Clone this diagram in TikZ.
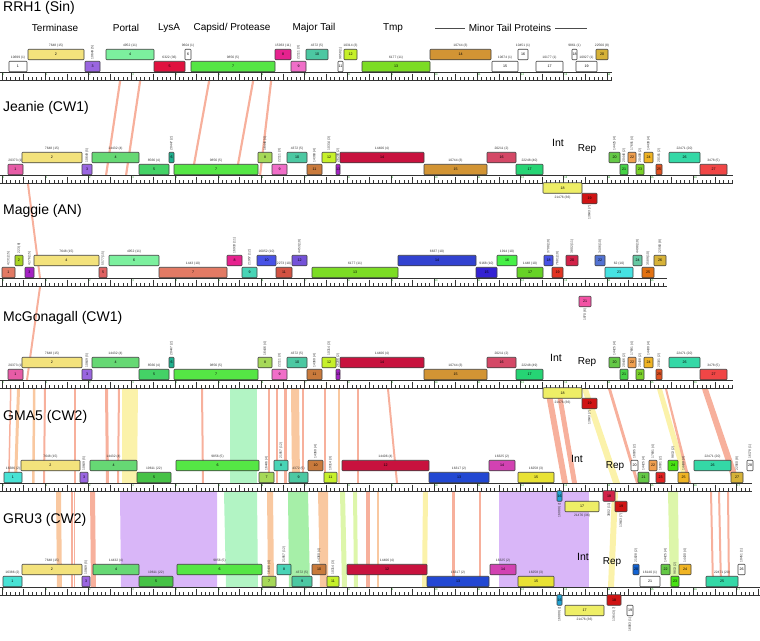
\documentclass[tikz,border=0pt]{standalone}
\usepackage{fontspec}
\setmainfont{Liberation Sans}

% gene colours
\definecolor{terY}{HTML}{F3E27C}
\definecolor{portL}{HTML}{7CF09E}
\definecolor{portG}{HTML}{66D874}
\definecolor{crim}{HTML}{E0123F}
\definecolor{capG}{HTML}{55E645}
\definecolor{pinkB}{HTML}{F06EC8}
\definecolor{mag}{HTML}{E6228E}
\definecolor{teal}{HTML}{4CC8A2}
\definecolor{ylg}{HTML}{C6F02A}
\definecolor{tmpG}{HTML}{7CDC24}
\definecolor{gold}{HTML}{D29434}
\definecolor{gold2}{HTML}{D6B238}
\definecolor{purp}{HTML}{9A66E0}
\definecolor{pink1}{HTML}{E65CA6}
\definecolor{gfive}{HTML}{44D266}
\definecolor{tealD}{HTML}{20B08E}
\definecolor{ylg2}{HTML}{A6D858}
\definecolor{brn}{HTML}{C97A3C}
\definecolor{crim2}{HTML}{C8123E}
\definecolor{rose}{HTML}{D44866}
\definecolor{emer}{HTML}{26D474}
\definecolor{yel2}{HTML}{EEEE66}
\definecolor{cRed}{HTML}{D01414}
\definecolor{gInt}{HTML}{64C846}
\definecolor{gNext}{HTML}{46D246}
\definecolor{orgL}{HTML}{F0A050}
\definecolor{gLime}{HTML}{7AD22A}
\definecolor{orgY}{HTML}{F0B424}
\definecolor{orgR}{HTML}{E05020}
\definecolor{teal2}{HTML}{34D8A6}
\definecolor{red2}{HTML}{F04646}
\definecolor{salm}{HTML}{E27A64}
\definecolor{magP}{HTML}{A522C4}
\definecolor{salR}{HTML}{E06262}
\definecolor{tealM}{HTML}{48D4B6}
\definecolor{redB}{HTML}{D25242}
\definecolor{blueM}{HTML}{4852E6}
\definecolor{purM}{HTML}{7452D8}
\definecolor{blueD}{HTML}{3242D0}
\definecolor{blueV}{HTML}{3422D2}
\definecolor{grM}{HTML}{46F046}
\definecolor{grM2}{HTML}{66D226}
\definecolor{redM}{HTML}{E23422}
\definecolor{crimM}{HTML}{D22248}
\definecolor{blueL}{HTML}{5272D2}
\definecolor{cyanM}{HTML}{46E2E2}
\definecolor{tealL}{HTML}{66C8A2}
\definecolor{orM}{HTML}{E27212}
\definecolor{pinkM}{HTML}{F252A4}
\definecolor{ylgM}{HTML}{A8D424}
\definecolor{cyanG}{HTML}{48E2D4}
\definecolor{grG}{HTML}{46C246}
\definecolor{blueG}{HTML}{2248D2}
\definecolor{yelG}{HTML}{E8E234}
\definecolor{magG}{HTML}{D242B2}
\definecolor{redG}{HTML}{E22222}
\definecolor{limeG}{HTML}{48E212}
\definecolor{cyanB}{HTML}{22A2D2}
\definecolor{blueR}{HTML}{1262D2}
% band colours
\definecolor{bSal}{HTML}{F7B09C}
\definecolor{bOrg}{HTML}{F9C8A0}
\definecolor{bYel}{HTML}{FBF2AA}
\definecolor{bGrn}{HTML}{B2F4C4}
\definecolor{bGrn2}{HTML}{A6EFA8}
\definecolor{bPur}{HTML}{D9B6F8}
\definecolor{bYg}{HTML}{DDF6AA}

\tikzset{
  genebox/.style={draw=black!75,line width=0.6pt,inner sep=0pt,minimum height=10.5pt,
    rounded corners=0.8pt,font=\fontsize{3.6}{4}\selectfont},
  lbl/.style={inner sep=0pt,font=\fontsize{3.3}{4}\selectfont,text=black!80},
  kbtxt/.style={inner sep=0pt,anchor=west,font=\fontsize{2.6}{3}\selectfont,text=green!55!black},
  tickline/.style={line width=0.4pt,black!80},
  rulerline/.style={line width=0.6pt,black!80},
  title/.style={anchor=west,inner sep=0pt,font=\fontsize{14}{16}\selectfont},
  func/.style={inner sep=0pt,font=\fontsize{10}{12}\selectfont},
}

% ruler: #1 y, #2 right end
\newcommand{\ruler}[2]{%
  \draw[rulerline] (0,#1) -- (#2,#1);
  \draw[tickline] (0,#1+8) -- (#2,#1+8);
  \pgfmathtruncatemacro\ntick{(#2-2)/4.32}
  \foreach \i in {0,...,\ntick}{
    \pgfmathsetmacro\tkx{2+4.32*\i}
    \pgfmathtruncatemacro\tmaj{mod(\i,10)}
    \pgfmathtruncatemacro\thalf{mod(\i,5)}
    \ifnum\tmaj=0
      \draw[tickline] (\tkx,#1) -- (\tkx,#1+8);
      \pgfmathtruncatemacro\kbn{\i/10}
      \node[kbtxt] (\trk-k\kbn) at (\tkx+0.5,#1+2.3) {\kbn};
    \else\ifnum\thalf=0
      \draw[tickline] (\tkx,#1+1.5) -- (\tkx,#1+8);
    \else
      \draw[tickline] (\tkx,#1+5) -- (\tkx,#1+8);
    \fi\fi
  }
}

% gene: #1 x1, #2 x2, #3 row (u,l above / d,e below), #4 colour, #5 number, #6 label, #7 h/v
\newcommand{\gene}[7]{%
  \pgfmathsetmacro\gnw{#2-#1}%
  \pgfmathsetmacro\gnx{(#1+#2)/2}%
  \if#3u\def\gno{-17.5}\fi
  \if#3l\def\gno{-5.5}\fi
  \if#3d\def\gno{13}\fi
  \if#3e\def\gno{23.5}\fi
  \pgfmathsetmacro\gny{\ry+\gno}%
  \node[genebox,fill=#4,minimum width=\gnw pt] (\trk-#5) at (\gnx,\gny) {\makebox[0pt]{#5}};
  \ifdim\gno pt<0pt
    \if#7h\node[lbl] (\trk-#5l) at (\gnx,\gny-9.2) {#6};
    \else\node[lbl,rotate=90,anchor=west] (\trk-#5l) at (\gnx,\gny-6.8) {#6};\fi
  \else
    \if#7h\node[lbl] (\trk-#5l) at (\gnx,\gny+9.2) {#6};
    \else\node[lbl,rotate=90,anchor=east] (\trk-#5l) at (\gnx,\gny+6.8) {#6};\fi
  \fi
}

% pham band: #1 top y, #2 bottom y, #3-#4 top x, #5-#6 bottom x, #7 colour
\newcommand{\band}[7]{\fill[#7] (#3,#1) -- (#4,#1) -- (#6,#2) -- (#5,#2) -- cycle;}

\begin{document}
\begin{tikzpicture}[x=1pt,y=-1pt]
\useasboundingbox (0,0) rectangle (760,640);

% bands between genomes
\foreach \a/\c in {119/105,139/125,208/191,252/235,270/259}
  \band{81}{175}{\a}{\a+2.2}{\c}{\c+2.2}{bSal};
\band{184}{278}{27}{29}{39}{41}{bSal}
\band{287}{380}{39}{41}{26}{28}{bSal}
\foreach \a/\b/\c/\d/\bc in {10/11.5/8/9.5/bSal,17/20/14/17/bOrg,33/35.5/32/34.5/bOrg,
    44/46/43/45/bSal,74/76/74/76/bSal,105/108/106/109/bSal,118/120/117/119/bSal,
    122/138/122/137/bYel,201/203/202/204/bSal,230/257/230/257/bGrn,268/270/268/270/bSal,
    276/278/276/278/bSal,284/287/284/287/bSal,291/299/292/300/bOrg,302/304/302/304/bSal,
    324/326/324/326/bSal,338/340/338/340/bOrg,357/359/357/359/bSal,387/389/396/398/bSal,
    545/551/562/568/bSal,556/561/572/577/bSal,582/588/613/620/bYel,608/611/636/639/bSal,
    657/662/684/690/bYel,665/667/688/691/bSal,702/708/733/740/bSal}
  \band{389}{483}{\a}{\b}{\c}{\d}{\bc};
\foreach \a/\b/\c/\d/\bc in {56/61/57/62/bOrg,71/72.5/71/72.5/bSal,73.5/75/73.5/75/bSal,
    90/95/91/96/bSal,120/217/121/217/bPur,224/257/226/258/bGrn,267/273/268/274/bOrg,
    288/308/289/310/bGrn2,318/328/320/328/bOrg,340/345/342/347/bYg,353/357/354/358/bYg,
    366/370/366/370/bSal,377/379/377/379/bOrg,423/428/422/427/bYel,452/455/452/455/bSal,
    479/481/479/481/bSal,499/589/499/589/bPur,612/618/608/614/bYel,668/678/670/679/bYg,
    710/712/712/714/bSal,718/720/720/722/bSal,727/729/728/730/bSal}
  \band{492}{587}{\a}{\b}{\c}{\d}{\bc};

% function labels
\node[func] (ter) at (55,28) {Terminase};
\node[func] (por) at (126,28) {Portal};
\node[func] (lys) at (169,28) {LysA};
\node[func] (cap) at (232,28) {Capsid/ Protease};
\node[func] (mjt) at (314,28) {Major Tail};
\node[func] (tmp) at (393,28) {Tmp};
\node[func] (mtp) at (510,28) {Minor Tail Proteins};
\draw[black!70,line width=0.5pt] ([xshift=-4pt]mtp.west) -- ++(-30,0);
\draw[black!70,line width=0.5pt] ([xshift=4pt]mtp.east) -- ++(32,0);

% RRH1
\def\trk{rrh}\def\ry{72}
\node[title] (rrh) at (3,8) {RRH1 (Sin)};
\ruler{72}{612}
\gene{9}{27}{l}{white}{1}{10699 (1)}{h}
\gene{28}{84}{u}{terY}{2}{7648 (15)}{h}
\gene{85}{100}{l}{purp}{3}{10649 (5)}{v}
\gene{106}{154}{u}{portL}{4}{4952 (11)}{h}
\gene{154}{185}{l}{crim}{5}{6322 (36)}{h}
\gene{185}{191}{u}{white}{6}{9604 (1)}{h}
\gene{191}{275}{l}{capG}{7}{9856 (5)}{h}
\gene{275}{291}{u}{mag}{8}{15933 (11)}{h}
\gene{291}{306}{l}{pinkB}{9}{22111 (3)}{v}
\gene{306}{328}{u}{teal}{10}{4372 (5)}{h}
\gene{338}{343}{l}{white}{11}{9858 (1)}{v}
\gene{344}{357}{u}{ylg}{12}{10314 (3)}{h}
\gene{362}{430}{l}{tmpG}{13}{6177 (11)}{h}
\gene{430}{491}{u}{gold}{14}{10744 (3)}{h}
\gene{492}{518}{l}{white}{15}{10674 (1)}{h}
\gene{518}{528}{u}{white}{16}{10451 (1)}{h}
\gene{536}{563}{l}{white}{17}{10177 (1)}{h}
\gene{572}{577}{u}{white}{18}{9861 (1)}{h}
\gene{576}{597}{l}{white}{19}{10927 (1)}{h}
\gene{596}{608}{u}{gold2}{20}{22560 (8)}{h}

% Jeanie and McGonagall
\node[title] (jea) at (3,108) {Jeanie (CW1)};
\node[title] (mcg) at (3,318) {McGonagall (CW1)};
\foreach \trk/\ry/\pn in {jea/175/40,mcg/380/49}{
  \ruler{\ry}{733}
  \gene{8}{23}{l}{pink1}{1}{20373 (1)}{h}
  \gene{22}{82}{u}{terY}{2}{7648 (15)}{h}
  \gene{82}{92}{l}{purp}{3}{10649 (5)}{v}
  \gene{92}{139}{u}{portG}{4}{14432 (4)}{h}
  \gene{139}{169}{l}{gfive}{5}{8566 (4)}{h}
  \gene{169}{174}{u}{tealD}{6}{20447 (2)}{v}
  \gene{174}{258}{l}{capG}{7}{9856 (5)}{h}
  \gene{258}{272}{u}{ylg2}{8}{16446 (4)}{v}
  \gene{272}{287}{l}{pinkB}{9}{22111 (3)}{v}
  \gene{287}{307}{u}{teal}{10}{4372 (5)}{h}
  \gene{307}{322}{l}{brn}{11}{14360 (4)}{v}
  \gene{322}{336}{u}{ylg}{12}{10314 (3)}{v}
  \gene{336}{340}{l}{magP}{13}{26206 (2)}{v}
  \gene{340}{424}{u}{crim2}{14}{14406 (4)}{h}
  \gene{424}{487}{l}{gold}{15}{10744 (3)}{h}
  \gene{487}{516}{u}{rose}{16}{20211 (2)}{h}
  \gene{516}{543}{l}{emer}{17}{22248 (\pn)}{h}
  \gene{543}{582}{d}{yel2}{18}{21476 (36)}{h}
  \gene{582}{597}{e}{cRed}{19}{13643 (7)}{v}
  \gene{609}{620}{u}{gInt}{20}{14425 (4)}{v}
  \gene{620}{628}{l}{gNext}{21}{20446 (2)}{v}
  \gene{628}{636}{u}{orgL}{22}{17691 (4)}{v}
  \gene{636}{644}{l}{gLime}{23}{20408 (2)}{v}
  \gene{644}{653}{u}{orgY}{24}{14430 (4)}{v}
  \gene{656}{662}{l}{orgR}{25}{20181 (2)}{v}
  \gene{669}{700}{u}{teal2}{26}{22471 (20)}{h}
  \gene{700}{727}{l}{red2}{27}{3478 (5)}{h}
}
\node[func,font=\fontsize{10.5}{12}\selectfont] (jeaint) at (558,143) {Int};
\node[func] (jearep) at (587,149) {Rep};
\node[func,font=\fontsize{10.5}{12}\selectfont] (mcgint) at (556,358) {Int};
\node[func] (mcgrep) at (587,362) {Rep};

% Maggie
\def\trk{mag}\def\ry{278}
\node[title] (mag) at (3,211) {Maggie (AN)};
\ruler{278}{667}
\gene{2}{15}{l}{salm}{1}{4231 (15)}{v}
\gene{15}{23}{u}{ylgM}{2}{223 (8)}{v}
\gene{25}{34}{l}{magP}{3}{4276 (15)}{v}
\gene{34}{99}{u}{terY}{4}{7648 (15)}{h}
\gene{99}{107}{l}{salR}{5}{5577 (15)}{v}
\gene{109}{159}{u}{portL}{6}{4952 (11)}{h}
\gene{159}{227}{l}{salm}{7}{1443 (10)}{h}
\gene{227}{242}{u}{mag}{8}{16933 (11)}{v}
\gene{242}{257}{l}{tealM}{9}{21957 (12)}{v}
\gene{257}{276}{u}{blueM}{10}{16052 (10)}{h}
\gene{276}{292}{l}{redB}{11}{2273 (10)}{h}
\gene{292}{307}{u}{purM}{12}{4453 (10)}{v}
\gene{312}{398}{l}{tmpG}{13}{6177 (11)}{h}
\gene{398}{476}{u}{blueD}{14}{6637 (10)}{h}
\gene{476}{497}{l}{blueV}{15}{9168 (10)}{h}
\gene{497}{517}{u}{grM}{16}{1914 (10)}{h}
\gene{517}{543}{l}{grM2}{17}{1448 (10)}{h}
\gene{544}{553}{u}{blueM}{18}{3708 (10)}{v}
\gene{552}{563}{l}{redM}{19}{7681 (10)}{v}
\gene{566}{578}{u}{crimM}{20}{3802 (11)}{v}
\gene{579}{591}{e}{pinkM}{21}{1970 (6)}{v}
\gene{595}{605}{u}{blueL}{22}{3406 (10)}{v}
\gene{605}{633}{l}{cyanM}{23}{62 (10)}{h}
\gene{633}{642}{u}{tealL}{24}{4498 (10)}{v}
\gene{642}{654}{l}{orM}{25}{3589 (10)}{v}
\gene{654}{666}{u}{gold2}{26}{22560 (8)}{v}

% GMA5
\def\trk{gma}\def\ry{483}
\node[title] (gma) at (3,417) {GMA5 (CW2)};
\ruler{483}{752}
\gene{4}{22}{l}{cyanG}{1}{16386 (2)}{h}
\gene{21}{80}{u}{terY}{2}{7648 (15)}{h}
\gene{80}{88}{l}{purp}{3}{10649 (5)}{v}
\gene{90}{137}{u}{portG}{4}{14432 (4)}{h}
\gene{137}{171}{l}{grG}{5}{19611 (22)}{h}
\gene{176}{259}{u}{capG}{6}{9856 (5)}{h}
\gene{259}{274}{l}{ylg2}{7}{16446 (4)}{v}
\gene{274}{288}{u}{tealM}{8}{21957 (12)}{v}
\gene{289}{308}{l}{teal}{9}{4372 (5)}{h}
\gene{308}{323}{u}{brn}{10}{14360 (4)}{v}
\gene{324}{337}{l}{ylg}{11}{10314 (3)}{v}
\gene{342}{429}{u}{crim2}{12}{14406 (4)}{h}
\gene{429}{489}{l}{blueG}{13}{16317 (2)}{h}
\gene{489}{515}{u}{magG}{14}{16325 (2)}{h}
\gene{518}{554}{l}{yelG}{15}{16258 (3)}{h}
\gene{557}{562}{d}{cyanB}{16}{16080 (2)}{v}
\gene{565}{599}{e}{yel2}{17}{21476 (36)}{h}
\gene{603}{615}{d}{crimM}{18}{3802 (11)}{v}
\gene{615}{627}{e}{cRed}{19}{13643 (7)}{v}
\gene{631}{638}{u}{white}{20}{16035 (2)}{v}
\gene{638}{649}{l}{gInt}{21}{14425 (4)}{v}
\gene{649}{657}{u}{orgL}{22}{17691 (4)}{v}
\gene{656}{665}{l}{redG}{23}{16031 (2)}{v}
\gene{668}{678}{u}{limeG}{24}{9813 (2)}{v}
\gene{678}{689}{l}{orgY}{25}{14430 (4)}{v}
\gene{694}{731}{u}{teal2}{26}{22471 (20)}{h}
\gene{731}{743}{l}{gold2}{27}{22560 (8)}{v}
\gene{747}{753}{u}{white}{28}{16178 (1)}{v}
\node[func,font=\fontsize{10.5}{12}\selectfont] (gmaint) at (577,459) {Int};
\node[func] (gmarep) at (615,466) {Rep};

% GRU3
\def\trk{gru}\def\ry{587}
\node[title] (gru) at (3,520) {GRU3 (CW2)};
\ruler{587}{760}
\gene{3}{22}{l}{cyanG}{1}{16386 (2)}{h}
\gene{22}{82}{u}{terY}{2}{7648 (15)}{h}
\gene{82}{90}{l}{purp}{3}{10649 (5)}{v}
\gene{93}{139}{u}{portG}{4}{14432 (4)}{h}
\gene{139}{173}{l}{grG}{5}{19611 (22)}{h}
\gene{177}{262}{u}{capG}{6}{9856 (5)}{h}
\gene{262}{276}{l}{ylg2}{7}{16446 (4)}{v}
\gene{277}{291}{u}{tealM}{8}{21957 (12)}{v}
\gene{292}{312}{l}{teal}{9}{4372 (5)}{h}
\gene{312}{326}{u}{brn}{10}{14360 (4)}{v}
\gene{327}{339}{l}{ylg}{11}{10314 (3)}{v}
\gene{347}{427}{u}{crim2}{12}{14406 (4)}{h}
\gene{427}{489}{l}{blueG}{13}{16317 (2)}{h}
\gene{490}{516}{u}{magG}{14}{16325 (2)}{h}
\gene{518}{554}{l}{yelG}{15}{16258 (3)}{h}
\gene{557}{562}{d}{cyanB}{16}{16080 (2)}{v}
\gene{565}{604}{e}{yel2}{17}{21476 (36)}{h}
\gene{607}{621}{d}{cRed}{18}{13643 (7)}{v}
\gene{627}{633}{e}{white}{19}{16083 (1)}{v}
\gene{633}{639}{u}{blueR}{20}{21828 (2)}{v}
\gene{640}{660}{l}{white}{21}{16140 (1)}{h}
\gene{661}{670}{u}{gInt}{22}{14425 (4)}{v}
\gene{671}{679}{l}{limeG}{23}{9813 (2)}{v}
\gene{679}{691}{u}{orgY}{24}{14430 (4)}{v}
\gene{706}{738}{l}{teal2}{25}{22471 (20)}{h}
\gene{738}{745}{u}{white}{26}{10451 (1)}{v}
\node[func,font=\fontsize{10.5}{12}\selectfont] (gruint) at (583,557) {Int};
\node[func] (grurep) at (612,562) {Rep};
\end{tikzpicture}
\end{document}
